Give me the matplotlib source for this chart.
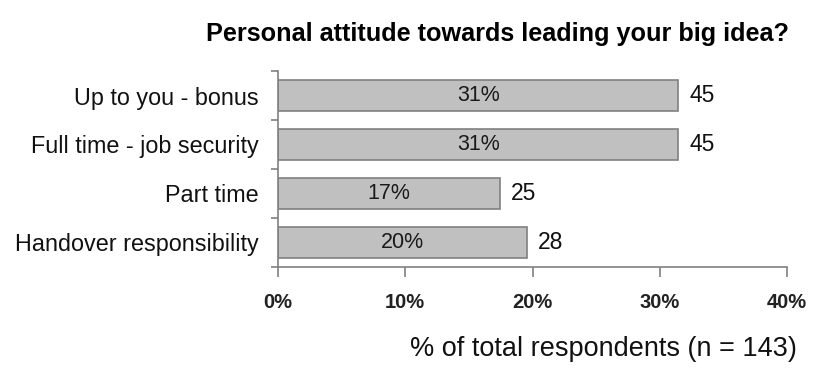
import matplotlib
matplotlib.use("Agg")
import matplotlib.pyplot as plt

plt.rcParams["font.family"] = ["Liberation Sans", "DejaVu Sans"]

categories = ["Up to you - bonus", "Full time - job security", "Part time", "Handover responsibility"]
counts = [45, 45, 25, 28]
total = 143
pct_labels = ["31%", "31%", "17%", "20%"]
x_ticks = [0, 10, 20, 30, 40]
x_tick_labels = ["0%", "10%", "20%", "30%", "40%"]

# bar length is the share of all respondents
shares = [c / total * 100 for c in counts]

fig = plt.figure(figsize=(8.14, 3.73), dpi=100)
ax = fig.add_axes([278 / 814, 1 - 267 / 373, 509 / 814, 196 / 373])

y = list(range(len(categories)))
ax.barh(y, shares, height=0.62, color="#C0C0C0", edgecolor="#808080", linewidth=1.2)
ax.set_ylim(3.5, -0.5)
ax.set_xlim(0, 40)

for i, (s, p, c) in enumerate(zip(shares, pct_labels, counts)):
    ax.text(s / 2, i, p, ha="center", va="center", fontsize=15.5, color="#1a1a1a")
    ax.text(s + 0.85, i, str(c), ha="left", va="center", fontsize=16.5, color="#111111")

# category labels on the bar centres, tick marks on the boundaries
ax.set_yticks(y)
ax.set_yticklabels(categories, fontsize=16.8, color="#111111")
ax.set_yticks([v - 0.5 for v in range(len(categories) + 1)], minor=True)
ax.tick_params(axis="y", which="major", length=0, pad=14)
ax.tick_params(axis="y", which="minor", length=5, width=1.2, color="#808080")

ax.set_xticks(x_ticks)
ax.set_xticklabels(x_tick_labels, fontsize=14.5, fontweight="bold", color="#222222")
ax.tick_params(axis="x", length=7, width=1.2, color="#808080", pad=12)

for side in ["top", "right"]:
    ax.spines[side].set_visible(False)
for side in ["left", "bottom"]:
    ax.spines[side].set_color("#808080")
    ax.spines[side].set_linewidth(1.2)

fig.text(497 / 814, 1 - 34 / 373, "Personal attitude towards leading your big idea?",
         ha="center", va="center", fontsize=18.2, fontweight="bold")
fig.text(797 / 814, 1 - 349 / 373, "% of total respondents (n = 143)",
         ha="right", va="center", fontsize=19.5, color="#111111")

fig.savefig("out.png", dpi=100)
